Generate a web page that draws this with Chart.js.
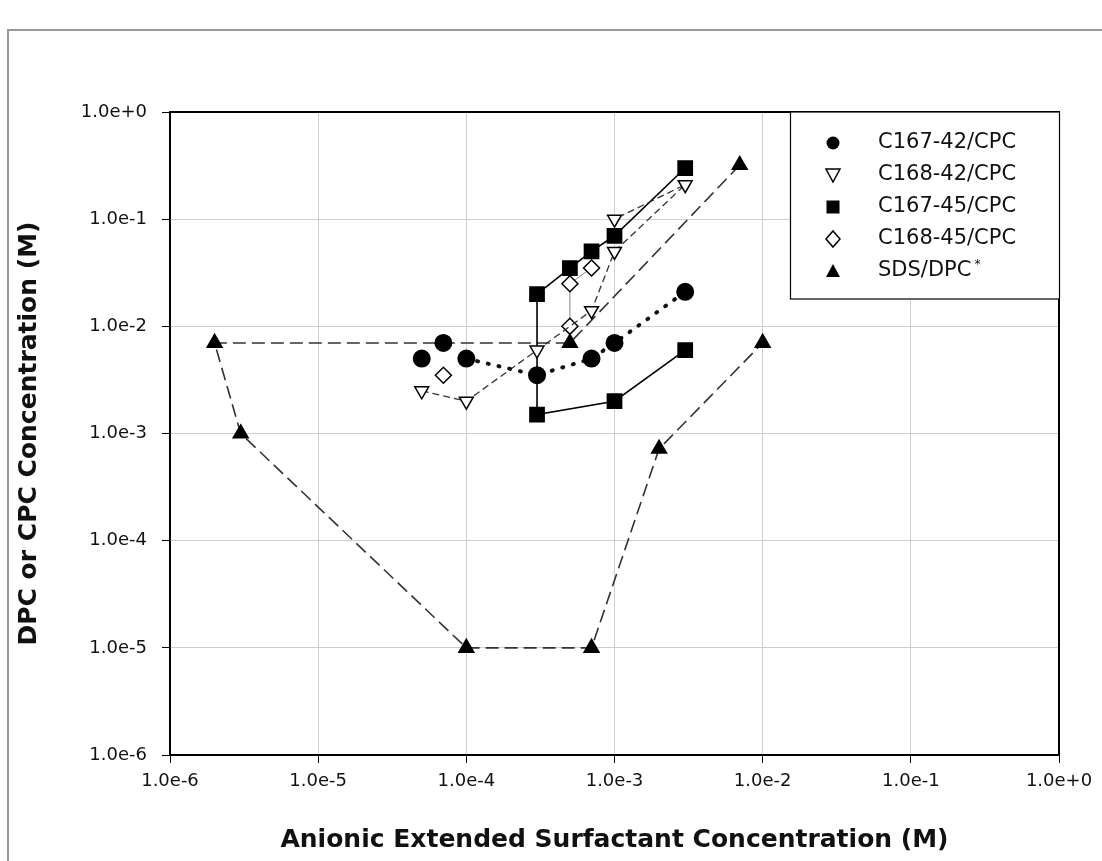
<!DOCTYPE html>
<html>
<head>
<meta charset="utf-8">
<script src="https://cdn.jsdelivr.net/npm/chart.js@4.4.1/dist/chart.umd.min.js"></script>
<style>
html, body { margin: 0; padding: 0; background: #fff; }
#wrap { position: relative; width: 1102px; height: 861px; overflow: hidden; }
#frame { position: absolute; left: 7px; top: 29px; width: 1200px; height: 1000px;
  border-left: 2px solid #9a9a9a; border-top: 2px solid #9a9a9a; }
canvas { position: absolute; left: 0; top: 0; }
</style>
</head>
<body>
<div id="wrap"><div id="frame"></div><canvas id="c" width="1102" height="861"></canvas></div>
<script>
// values (M)
const decades = [1e-6, 1e-5, 1e-4, 1e-3, 1e-2, 1e-1, 1];

const c16742X = [5e-5, 7e-5, 1e-4, 3e-4, 7e-4, 1e-3, 3e-3];
const c16742Y = [5e-3, 7e-3, 5e-3, 3.5e-3, 5e-3, 7e-3, 2.1e-2];

const c16842X = [5e-5, 1e-4, 3e-4, 7e-4, 1e-3, 3e-3, 1e-3];
const c16842Y = [2.5e-3, 2e-3, 6e-3, 1.4e-2, 5e-2, 2.1e-1, 1e-1];

const c16745X = [3e-3, 1e-3, 3e-4, 3e-4, 5e-4, 7e-4, 1e-3, 3e-3];
const c16745Y = [6e-3, 2e-3, 1.5e-3, 2e-2, 3.5e-2, 5e-2, 7e-2, 3e-1];

const c16845X = [7e-5, 5e-4, 5e-4, 7e-4];
const c16845Y = [3.5e-3, 1e-2, 2.5e-2, 3.5e-2];

const sdsX = [7e-3, 5e-4, 2e-6, 3e-6, 1e-4, 7e-4, 2e-3, 1e-2];
const sdsY = [3.2e-1, 7e-3, 7e-3, 1e-3, 1e-5, 1e-5, 7.2e-4, 7e-3];

const seriesNames = ['C167-42/CPC', 'C168-42/CPC', 'C167-45/CPC', 'C168-45/CPC', 'SDS/DPC'];

const pts = (xs, ys) => xs.map((x, i) => ({ x: x, y: ys[i] }));
const hideFirst = n => ctx => ctx.p0DataIndex < n ? 'rgba(0,0,0,0)' : undefined;

function expLabel(v) {
  const e = Math.round(Math.log10(v));
  return '1.0e' + (e >= 0 ? '+' : '-') + Math.abs(e);
}

const tickFont = { family: 'DejaVu Sans', size: 18 };
const titleFont = { family: 'DejaVu Sans', size: 25, weight: 'bold' };

// draws the top/right frame of the plot and the boxed legend
const boxAndLegend = {
  id: 'boxAndLegend',
  afterDatasetsDraw(chart) {
    const ctx = chart.ctx;
    const a = chart.chartArea;
    ctx.save();
    ctx.strokeStyle = '#000';
    ctx.lineWidth = 2;
    ctx.beginPath();
    ctx.moveTo(a.left, a.top);
    ctx.lineTo(a.right, a.top);
    ctx.lineTo(a.right, a.bottom);
    ctx.stroke();

    const bx = 790, by = a.top, bw = a.right - 790, bh = 187;
    ctx.fillStyle = '#fff';
    ctx.fillRect(bx, by, bw, bh);
    ctx.lineWidth = 1.2;
    ctx.strokeRect(bx + 0.5, by, bw, bh);

    const mx = 833, tx = 878;
    ctx.font = '21px "DejaVu Sans"';
    ctx.textBaseline = 'middle';
    seriesNames.forEach((name, i) => {
      const y = 143 + i * 32;
      ctx.fillStyle = '#000';
      ctx.strokeStyle = '#000';
      ctx.lineWidth = 1.5;
      ctx.beginPath();
      if (i === 0) {
        ctx.arc(mx, y, 6.5, 0, Math.PI * 2);
        ctx.fill();
      } else if (i === 1) {
        ctx.moveTo(mx - 7, y - 6); ctx.lineTo(mx + 7, y - 6); ctx.lineTo(mx, y + 7); ctx.closePath();
        ctx.stroke();
      } else if (i === 2) {
        ctx.fillRect(mx - 6.5, y - 6.5, 13, 13);
      } else if (i === 3) {
        ctx.moveTo(mx, y - 8); ctx.lineTo(mx + 7, y); ctx.lineTo(mx, y + 8); ctx.lineTo(mx - 7, y); ctx.closePath();
        ctx.stroke();
      } else {
        ctx.moveTo(mx, y - 7); ctx.lineTo(mx + 7, y + 6); ctx.lineTo(mx - 7, y + 6); ctx.closePath();
        ctx.fill();
      }
      ctx.fillStyle = '#111';
      ctx.fillText(name, tx, y);
      if (i === 4) {
        const w = ctx.measureText(name).width;
        ctx.font = '12px "DejaVu Sans"';
        ctx.fillText('*', tx + w + 3, y - 6);
        ctx.font = '21px "DejaVu Sans"';
      }
    });
    ctx.restore();
  }
};

new Chart(document.getElementById('c'), {
  type: 'scatter',
  data: {
    datasets: [
      {
        label: seriesNames[0], data: pts(c16742X, c16742Y), showLine: true,
        borderColor: '#111', borderWidth: 4, borderDash: [1, 10], borderCapStyle: 'round',
        segment: { borderColor: hideFirst(2) },
        pointStyle: 'circle', pointRadius: 7, pointBackgroundColor: '#000', pointBorderColor: '#000'
      },
      {
        label: seriesNames[1], data: pts(c16842X, c16842Y), showLine: true,
        borderColor: '#333', borderWidth: 1.3, borderDash: [7, 4],
        pointStyle: 'triangle', rotation: 180, pointRadius: 8, pointBorderWidth: 1.5,
        pointBackgroundColor: '#fff', pointBorderColor: '#000'
      },
      {
        label: seriesNames[2], data: pts(c16745X, c16745Y), showLine: true,
        borderColor: '#000', borderWidth: 1.6,
        pointStyle: 'rect', pointRadius: 10, pointBackgroundColor: '#000', pointBorderColor: '#000'
      },
      {
        label: seriesNames[3], data: pts(c16845X, c16845Y), showLine: true,
        borderColor: '#888', borderWidth: 1,
        segment: { borderColor: hideFirst(1) },
        pointStyle: 'rectRot', pointRadius: 8, pointBorderWidth: 1.5,
        pointBackgroundColor: '#fff', pointBorderColor: '#000'
      },
      {
        label: seriesNames[4], data: pts(sdsX, sdsY), showLine: true,
        borderColor: '#333', borderWidth: 1.6, borderDash: [13, 6],
        pointStyle: 'triangle', pointRadius: 8.5, pointBackgroundColor: '#000', pointBorderColor: '#000'
      }
    ]
  },
  options: {
    responsive: false,
    animation: false,
    layout: { padding: { left: 0, top: 112, right: 43, bottom: 0 } },
    plugins: { legend: { display: false }, tooltip: { enabled: false } },
    scales: {
      x: {
        type: 'logarithmic', min: 1e-6, max: 1,
        afterBuildTicks: s => { s.ticks = decades.map(v => ({ value: v })); },
        afterFit: s => { s.height = 106; },
        ticks: { callback: expLabel, font: tickFont, color: '#111', padding: 8, maxRotation: 0, autoSkip: false },
        grid: { color: '#cfcfcf', lineWidth: 1, tickLength: 8, tickColor: '#000' },
        border: { color: '#000', width: 2 },
        title: { display: true, text: 'Anionic Extended Surfactant Concentration (M)', font: titleFont, color: '#111', padding: { top: 0, bottom: 6 } }
      },
      y: {
        type: 'logarithmic', min: 1e-6, max: 1,
        afterBuildTicks: s => { s.ticks = decades.map(v => ({ value: v })); },
        afterFit: s => { s.width = 170; },
        ticks: { callback: expLabel, font: tickFont, color: '#111', padding: 15, autoSkip: false },
        grid: { color: '#cfcfcf', lineWidth: 1, tickLength: 8, tickColor: '#000' },
        border: { color: '#000', width: 2 },
        title: { display: true, text: 'DPC or CPC Concentration (M)', font: titleFont, color: '#111', padding: { top: 14, bottom: 0 } }
      }
    }
  },
  plugins: [boxAndLegend]
});
</script>
</body>
</html>
